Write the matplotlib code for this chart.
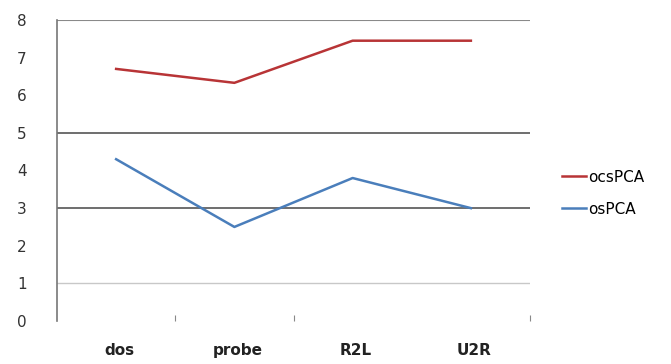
import matplotlib
matplotlib.use("Agg")
import matplotlib.pyplot as plt

# Average values per attack category
categorias = ["dos", "probe", "R2L", "U2R"]
ocspca = [6.7, 6.33, 7.45, 7.45]
ospca = [4.3, 2.5, 3.8, 3.0]
niveles_y = [0, 1, 2, 3, 4, 5, 6, 7, 8]
lineas_guia = [1, 3, 5, 8]

W, H = 671, 364
fig = plt.figure(figsize=(W / 100, H / 100), dpi=100)
ax = fig.add_axes([57 / W, 43 / H, (530 - 57) / W, (321 - 20) / H])

x = [i + 0.5 for i in range(len(categorias))]
ax.plot(x, ocspca, color="#b83436", linewidth=1.8, label="ocsPCA")
ax.plot(x, ospca, color="#4a7ebb", linewidth=1.8, label="osPCA")

# horizontal guide lines
for g, c, lw in zip(lineas_guia, ["#c8c8c8", "#555555", "#555555", "#8a8a8a"],
                    [1.0, 1.2, 1.2, 1.5]):
    ax.axhline(g, color=c, linewidth=lw, zorder=0)

ax.set_xlim(0, 4)
ax.set_ylim(0, 8)
ax.set_yticks(niveles_y)
ax.set_yticklabels([str(v) for v in niveles_y], fontsize=11, color="#333333")
ax.set_xticks([1, 2, 4])
ax.set_xticklabels([])
ax.tick_params(axis="x", length=4, color="#888888", direction="in")
ax.tick_params(axis="y", length=0, pad=22)

for xi, nombre in zip(x, categorias):
    ax.text(xi + 0.03, -0.78, nombre, ha="center", va="center", fontsize=11,
            color="#222222", fontweight="bold")

for lado in ["top", "right", "bottom"]:
    ax.spines[lado].set_visible(False)
ax.spines["left"].set_color("#777777")
ax.spines["left"].set_linewidth(1.2)

fig.legend(loc="upper left", bbox_to_anchor=(548 / W, 1 - 156 / H),
           frameon=False, fontsize=11, handlelength=1.6, handletextpad=0.1,
           labelspacing=1.1)

fig.savefig("out.png", dpi=100)
